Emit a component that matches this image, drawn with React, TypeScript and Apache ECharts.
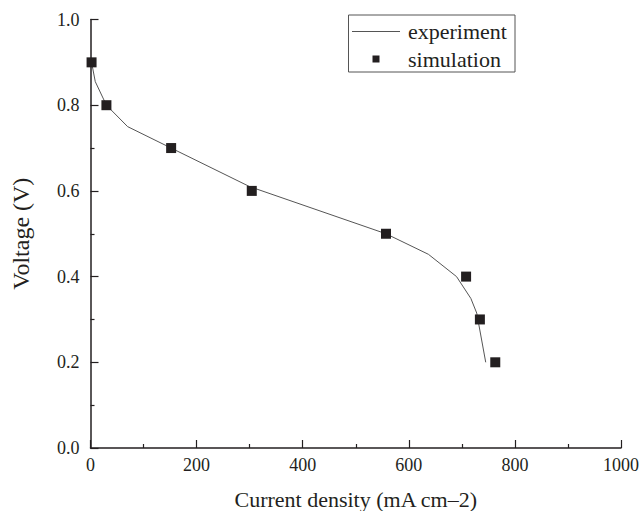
import React, { useEffect, useRef } from "react";
import * as echarts from "echarts";

const experimentX = [2, 9, 30, 70, 152, 300, 557, 637, 690, 717, 728, 745];
const experimentY = [0.9, 0.855, 0.8, 0.75, 0.7, 0.61, 0.5, 0.452, 0.4, 0.349, 0.315, 0.2];
const simulationX = [2, 30, 152, 304, 557, 708, 734, 763];
const simulationY = [0.9, 0.8, 0.7, 0.6, 0.5, 0.4, 0.3, 0.2];
const legendNames = ["experiment", "simulation"];
const xTitle = "Current density (mA cm\u20132)";
const yTitle = "Voltage (V)";

const FONT = "Liberation Serif";
const INK = "#231f20";

export default function App() {
  const ref = useRef<HTMLDivElement>(null);
  useEffect(() => {
    if (!ref.current) return;
    const chart = echarts.init(ref.current, undefined, { renderer: "svg" });
    const axisCommon = {
      axisLine: { show: true, lineStyle: { color: INK, width: 1.5 } },
      axisTick: { show: true, inside: true, length: 8, lineStyle: { color: INK, width: 1.2 } },
      minorTick: { show: true, splitNumber: 2, length: 4, lineStyle: { color: INK, width: 1.2 } },
      splitLine: { show: false },
    };
    chart.setOption({
      animation: false,
      backgroundColor: "#ffffff",
      textStyle: { fontFamily: FONT },
      grid: {
        left: 90.5,
        right: 19,
        top: 19.5,
        bottom: 63,
        containLabel: false,
        outerBoundsMode: "none",
      },
      xAxis: {
        type: "value",
        min: 0,
        max: 1000,
        interval: 200,
        name: xTitle,
        nameLocation: "middle",
        nameGap: 40,
        ...axisCommon,
        nameTextStyle: { color: INK, fontFamily: FONT, fontSize: 22 },
        axisLabel: {
          color: INK,
          fontFamily: FONT,
          fontSize: 18,
          margin: 8,
          formatter: (v: number) => String(v),
        },
      },
      yAxis: {
        type: "value",
        min: 0,
        max: 1.0,
        interval: 0.2,
        name: yTitle,
        nameLocation: "middle",
        nameGap: 58,
        ...axisCommon,
        nameTextStyle: { color: INK, fontFamily: FONT, fontSize: 24 },
        axisLabel: {
          color: INK,
          fontFamily: FONT,
          fontSize: 18,
          margin: 11,
          formatter: (v: number) => v.toFixed(1),
        },
      },
      series: [
        {
          name: legendNames[0],
          type: "line",
          data: experimentX.map((x, i) => [x, experimentY[i]]),
          showSymbol: false,
          symbol: "none",
          lineStyle: { color: "#555555", width: 1 },
          z: 2,
        },
        {
          name: legendNames[1],
          type: "scatter",
          data: simulationX.map((x, i) => [x, simulationY[i]]),
          symbol: "rect",
          symbolSize: 10,
          itemStyle: { color: INK, opacity: 1 },
          z: 3,
        },
      ],
      graphic: [
        {
          type: "rect",
          shape: { x: 348.5, y: 15, width: 166.5, height: 57 },
          style: { fill: "#fff", stroke: "#555", lineWidth: 1 },
          z: 10,
        },
        {
          type: "line",
          shape: { x1: 352, y1: 31.5, x2: 400, y2: 31.5 },
          style: { stroke: "#555", lineWidth: 1 },
          z: 11,
        },
        {
          type: "text",
          x: 408,
          y: 31,
          style: {
            text: legendNames[0],
            fill: INK,
            fontFamily: FONT,
            fontSize: 22,
            verticalAlign: "middle",
          },
          z: 11,
        },
        {
          type: "rect",
          shape: { x: 372.5, y: 55.5, width: 7, height: 7 },
          style: { fill: INK },
          z: 11,
        },
        {
          type: "text",
          x: 408,
          y: 59,
          style: {
            text: legendNames[1],
            fill: INK,
            fontFamily: FONT,
            fontSize: 22,
            verticalAlign: "middle",
          },
          z: 11,
        },
      ],
    });
    return () => chart.dispose();
  }, []);
  return (
    <div
      ref={ref}
      style={{ position: "absolute", left: 0, top: 0, width: 640, height: 511 }}
    />
  );
}
